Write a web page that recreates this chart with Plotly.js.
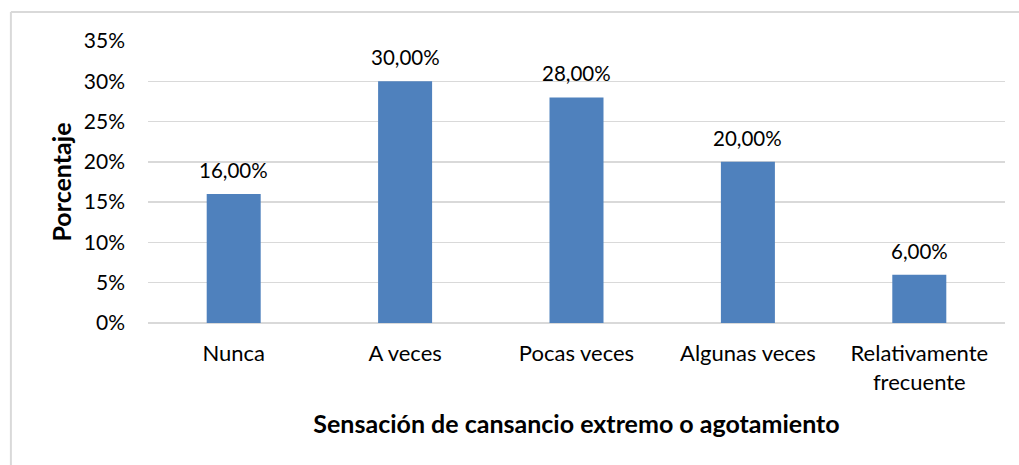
<!DOCTYPE html>
<html>
<head>
<meta charset="utf-8">
<script src="https://cdn.plot.ly/plotly-3.0.1.min.js"></script>
<style>
html,body{margin:0;padding:0;background:#fff;}
#chart{width:1019px;height:465px;}
</style>
</head>
<body>
<div id="chart"></div>
<script>
const categories = ["Nunca", "A veces", "Pocas veces", "Algunas veces", "Relativamente<br>frecuente"];
const values = [16, 30, 28, 20, 6];
const valueLabels = ["16,00%", "30,00%", "28,00%", "20,00%", "6,00%"];
const yTickVals = [0, 5, 10, 15, 20, 25, 30, 35];
const yTickText = ["0%", "5%", "10%", "15%", "20%", "25%", "30%", "35%"];

const FONT = "Lato, 'Open Sans', sans-serif";

const trace = {
  type: "bar",
  x: categories,
  y: values,
  marker: {color: "#4f81bd"},
  width: 0.315,
  hoverinfo: "none"
};

const annotations = categories.map((c, i) => ({
  x: c, y: values[i], xref: "x", yref: "y",
  text: valueLabels[i], showarrow: false,
  yanchor: "bottom", yshift: 10,
  font: {family: FONT, size: 20.5, color: "#000"}
}));

const layout = {
  width: 1019, height: 465,
  margin: {l: 148, r: 14, t: 41, b: 142},
  paper_bgcolor: "#fff", plot_bgcolor: "#fff",
  showlegend: false,
  bargap: 0.685,
  xaxis: {
    showgrid: false, showline: false, zeroline: false,
    ticks: "", ticklabelstandoff: 15,
    tickfont: {family: FONT, size: 22, color: "#000"},
    title: {text: "<b>Sensación de cansancio extremo o agotamiento</b>",
            font: {family: FONT, size: 25, color: "#000"}, standoff: 21}
  },
  yaxis: {
    range: [0, 35], tickvals: yTickVals, ticktext: yTickText,
    showgrid: true, gridcolor: "#d9d9d9", gridwidth: 1.5,
    zeroline: true, zerolinecolor: "#d9d9d9", zerolinewidth: 1.5,
    showline: false, ticks: "", ticklabelstandoff: 22,
    tickfont: {family: FONT, size: 21, color: "#000"},
    title: {text: "<b>Porcentaje</b>", font: {family: FONT, size: 25, color: "#000"}, standoff: 5}
  },
  annotations: annotations,
  shapes: [
    {type: "line", xref: "paper", yref: "paper", x0: -0.16, x1: 1.1, y0: 1.1028, y1: 1.1028,
     line: {color: "#d9d9d9", width: 2}},
    {type: "line", xref: "paper", yref: "paper", x0: -0.16, x1: -0.16, y0: 1.1028, y1: -0.6,
     line: {color: "#d9d9d9", width: 2}}
  ]
};

Plotly.newPlot("chart", [trace], layout, {displayModeBar: false, staticPlot: true});
</script>
</body>
</html>
